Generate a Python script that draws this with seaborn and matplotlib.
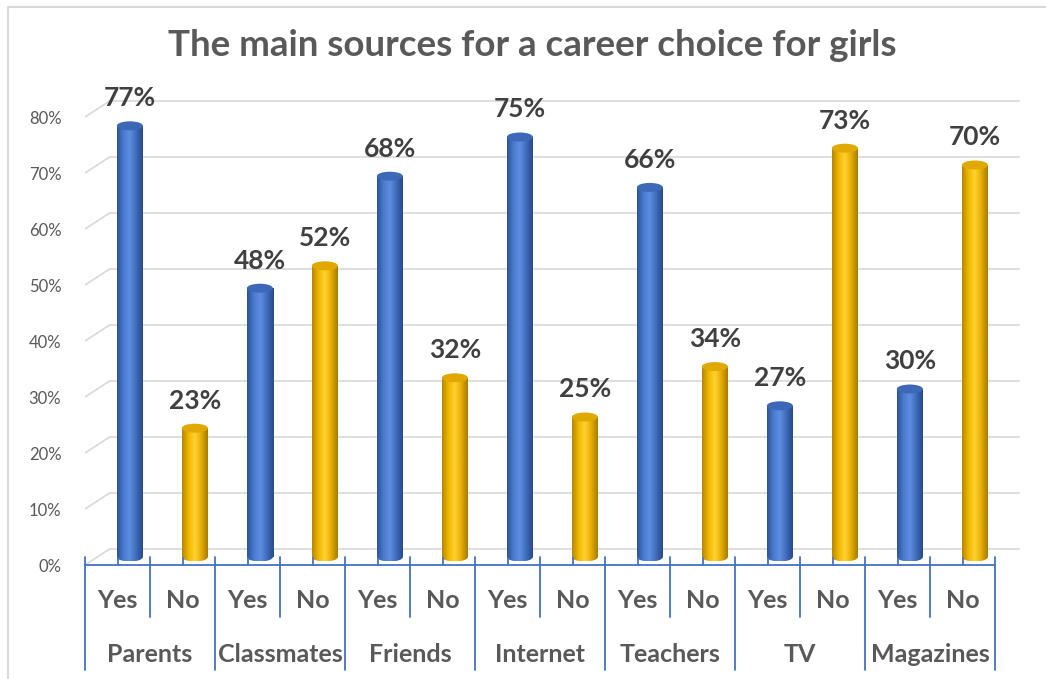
#!/usr/bin/env python3
"""
The main sources for a career choice for girls - cylinder style bar chart
"""

import numpy as np
import pandas as pd
import matplotlib
matplotlib.use('Agg')
import matplotlib.pyplot as plt
from matplotlib.colors import LinearSegmentedColormap
from matplotlib.patches import Ellipse, Rectangle
from matplotlib.lines import Line2D
import seaborn as sns

# --- data ---
SOURCES = ['Parents', 'Classmates', 'Friends', 'Internet', 'Teachers', 'TV', 'Magazines']
ANSWERS = ['Yes', 'No']
YES_VALUES = [77, 48, 68, 75, 66, 27, 30]
NO_VALUES = [23, 52, 32, 25, 34, 73, 70]
Y_TICKS = [0, 10, 20, 30, 40, 50, 60, 70, 80]

TITLE = 'The main sources for a career choice for girls'
OUTPUT_PATH = 'out.png'

# --- style ---
BLUE = '#4472C4'
GOLD = '#FFC000'
TEXT_GRAY = '#595959'
LABEL_GRAY = '#404040'
GRID_GRAY = '#D9D9D9'
FONT = ['Lato', 'DejaVu Sans']

# pseudo 3D depth (half of it): x in category slots, y in fraction units
DX = 0.19
DY = 0.0143
BAR_W = 0.40
CAP_H = 0.016

CMAPS = {
    'Yes': LinearSegmentedColormap.from_list('blue_cyl', ['#2E5395', '#4A7BD0', '#5E8EE0', '#3F6BBB', '#284A88']),
    'No': LinearSegmentedColormap.from_list('gold_cyl', ['#B58700', '#F2B800', '#FFD233', '#E6AC00', '#A67C00']),
}
CAP_COLORS = {'Yes': '#3D68B8', 'No': '#E0A800'}


def build_frame():
    rows = []
    for src, y, n in zip(SOURCES, YES_VALUES, NO_VALUES):
        rows.append({'key': f'{src} Yes', 'source': src, 'answer': 'Yes', 'value': y / 100})
        rows.append({'key': f'{src} No', 'source': src, 'answer': 'No', 'value': n / 100})
    return pd.DataFrame(rows)


def cylinderize(ax, df):
    grad = np.linspace(0, 1, 64).reshape(1, -1)
    for patch in list(ax.patches):
        h = patch.get_height()
        if h <= 0:
            continue
        x0 = patch.get_x()
        w = patch.get_width()
        xc = x0 + w / 2
        ans = df.iloc[int(round(xc))]['answer']
        cmap = CMAPS[ans]
        patch.set_alpha(0)
        # body
        im = ax.imshow(grad, cmap=cmap, aspect='auto', extent=(x0, x0 + w, -CAP_H / 2, h),
                       origin='lower', zorder=3, interpolation='bicubic')
        im.set_clip_path(Rectangle((x0, 0), w, h, transform=ax.transData))
        # rounded bottom
        im2 = ax.imshow(grad, cmap=cmap, aspect='auto', extent=(x0, x0 + w, -CAP_H / 2, h),
                        origin='lower', zorder=3, interpolation='bicubic')
        im2.set_clip_path(Ellipse((xc, 0), w, CAP_H, transform=ax.transData))
        # top cap
        ax.add_patch(Ellipse((xc, h), w, CAP_H, facecolor=CAP_COLORS[ans],
                             edgecolor='none', zorder=4))


def main():
    df = build_frame()

    sns.set_theme(style='white')
    plt.rcParams['font.family'] = FONT

    fig = plt.figure(figsize=(10.46, 6.79), dpi=100)
    W, H = 1046, 679
    ax_left, ax_right, ax_bottom, ax_top = 85, 1020, 565, 83
    ax = fig.add_axes([ax_left / W, 1 - ax_bottom / H, (ax_right - ax_left) / W, (ax_bottom - ax_top) / H])

    sns.barplot(data=df, x='key', y='value', hue='answer', hue_order=ANSWERS,
                palette={'Yes': BLUE, 'No': GOLD}, dodge=False, width=BAR_W,
                legend=False, ax=ax, zorder=3)

    x_lo = -0.5 - DX
    x_hi = x_lo + (ax_right - ax_left) / 65.0
    y_lo = -DY
    y_hi = y_lo + (ax_bottom - ax_top) / 560.0

    cylinderize(ax, df)

    ax.set_xlim(x_lo, x_hi)
    ax.set_ylim(y_lo, y_hi)
    for s in ax.spines.values():
        s.set_visible(False)

    # back gridlines with small diagonal
    for t in Y_TICKS:
        v = t / 100
        ax.plot([x_lo, -0.5 + DX, 13.5 + DX], [v - DY, v + DY, v + DY],
                color=GRID_GRAY, lw=1.2, zorder=1, solid_capstyle='butt')

    ax.set_yticks([t / 100 - DY for t in Y_TICKS])
    ax.set_yticklabels([f'{t}%' for t in Y_TICKS], color=TEXT_GRAY, fontsize=12)
    ax.tick_params(axis='y', length=0, pad=17)
    ax.set_xticks([])
    ax.set_xlabel('')
    ax.set_ylabel('')

    # value labels
    for i, row in df.iterrows():
        ax.text(i, row['value'] + 0.028, f"{row['value'] * 100:.0f}%", ha='center', va='bottom',
                fontsize=19, fontweight='bold', color=LABEL_GRAY, zorder=5)

    # multi level category axis
    tr = ax.get_xaxis_transform()
    px = 1.0 / (ax_bottom - ax_top)
    f_lo, f_hi = -0.5 - DX, 13.5 - DX
    ax.plot([f_lo, f_hi], [0, 0], color=BLUE, lw=1.3, transform=tr, clip_on=False, zorder=6)
    for i in range(len(df)):
        ax.plot([i - DX, i - DX], [0, 7 * px], color=BLUE, lw=1.3, transform=tr, clip_on=False, zorder=6)
    for k in range(len(df) + 1):
        xb = k - 0.5 - DX
        bottom = -105 * px if k % 2 == 0 else -52 * px
        ax.plot([xb, xb], [8 * px, bottom], color=BLUE, lw=1.3, transform=tr, clip_on=False, zorder=6)
    for i, row in df.iterrows():
        ax.text(i - DX, -36 * px, row['answer'], transform=tr, ha='center', va='center',
                fontsize=18, fontweight='bold', color=TEXT_GRAY)
    for g, src in enumerate(SOURCES):
        ax.text(2 * g + 0.5 - DX, -90 * px, src, transform=tr, ha='center', va='center',
                fontsize=18, fontweight='bold', color=TEXT_GRAY)

    fig.text(532 / W, 1 - 46 / H, TITLE, ha='center', va='center', fontsize=26.5,
             fontweight='bold', color=TEXT_GRAY)

    # chart border (top and left)
    fig.add_artist(Line2D([8 / W, 8 / W], [0, 1 - 7 / H], transform=fig.transFigure, color=GRID_GRAY, lw=1.5))
    fig.add_artist(Line2D([8 / W, 1], [1 - 7 / H, 1 - 7 / H], transform=fig.transFigure, color=GRID_GRAY, lw=1.5))

    fig.savefig(OUTPUT_PATH, dpi=100)
    plt.close(fig)


if __name__ == "__main__":
    main()
